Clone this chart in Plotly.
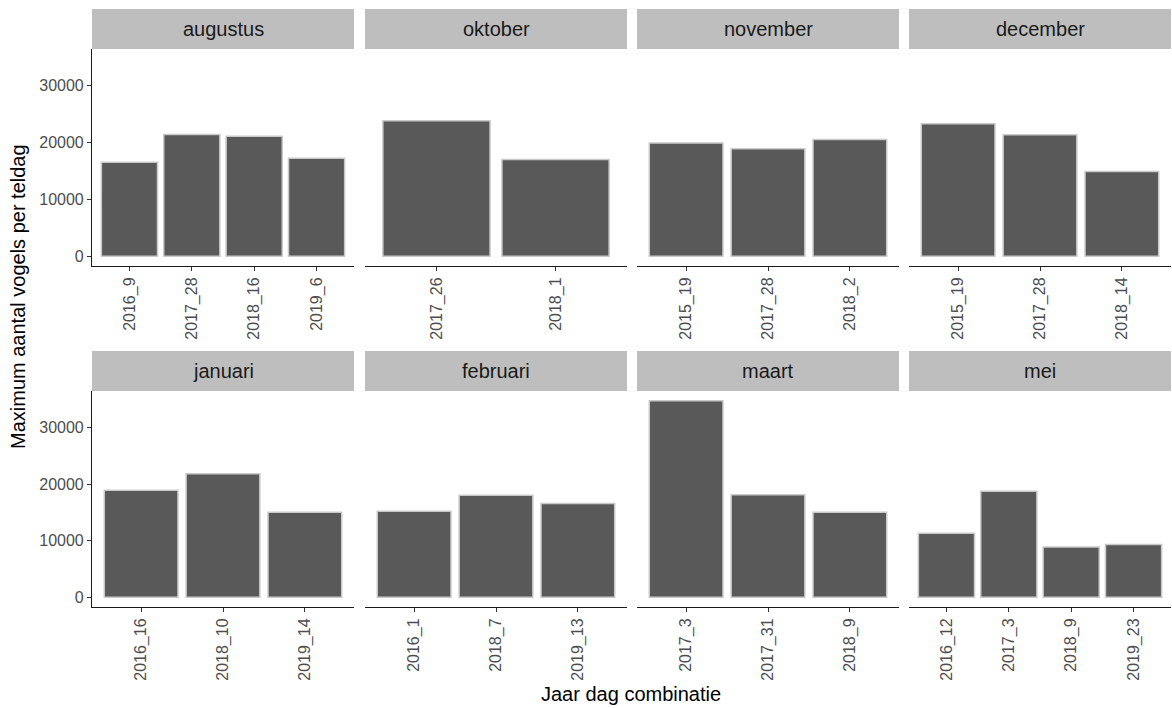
import plotly.graph_objects as go

W, H = 1172, 708

months = ["augustus", "oktober", "november", "december",
          "januari", "februari", "maart", "mei"]

augustus_cats = ["2016_9", "2017_28", "2018_16", "2019_6"]
augustus_vals = [16500, 21400, 21100, 17200]
oktober_cats = ["2017_26", "2018_1"]
oktober_vals = [23800, 17000]
november_cats = ["2015_19", "2017_28", "2018_2"]
november_vals = [19900, 18900, 20500]
december_cats = ["2015_19", "2017_28", "2018_14"]
december_vals = [23300, 21350, 14900]
januari_cats = ["2016_16", "2018_10", "2019_14"]
januari_vals = [18900, 21800, 15000]
februari_cats = ["2016_1", "2018_7", "2019_13"]
februari_vals = [15200, 18000, 16550]
maart_cats = ["2017_3", "2017_31", "2018_9"]
maart_vals = [34700, 18100, 15000]
mei_cats = ["2016_12", "2017_3", "2018_9", "2019_23"]
mei_vals = [11300, 18700, 8850, 9300]

panel_data = [
    (augustus_cats, augustus_vals), (oktober_cats, oktober_vals),
    (november_cats, november_vals), (december_cats, december_vals),
    (januari_cats, januari_vals), (februari_cats, februari_vals),
    (maart_cats, maart_vals), (mei_cats, mei_vals),
]

y_ticks = [0, 10000, 20000, 30000]
y_title = "Maximum aantal vogels per teldag"
x_title = "Jaar dag combinatie"

FONT = "Liberation Sans, Arial, sans-serif"

# layout geometry (pixels)
col_px = [(92, 354), (365, 627), (637, 899), (909, 1171)]
row_px = [(49, 266), (391, 607)]        # panel top, panel bottom
strip_px = [(9, 49), (351, 391)]

ymax_data = max(max(v) for _, v in panel_data)
y_range = [-0.05 * ymax_data, 1.05 * ymax_data]

fig = go.Figure()
layout = dict(
    width=W, height=H,
    margin=dict(l=0, r=0, t=0, b=0),
    paper_bgcolor="white", plot_bgcolor="white",
    showlegend=False,
    font=dict(family=FONT),
    shapes=[], annotations=[],
)

for i, (m, (cats, vals)) in enumerate(zip(months, panel_data)):
    r, c = divmod(i, 4)
    xn = "" if i == 0 else str(i + 1)
    fig.add_trace(go.Bar(
        x=cats, y=vals, xaxis="x" + xn, yaxis="y" + xn,
        width=0.9,
        marker=dict(color="#595959", line=dict(color="#C9C9C9", width=1.5)),
        hoverinfo="x+y",
    ))
    x0, x1 = col_px[c]
    yt, yb = row_px[r]
    layout["xaxis" + xn] = dict(
        domain=[x0 / W, x1 / W], anchor="y" + xn,
        type="category", range=[-0.6, len(cats) - 0.4],
        showline=True, linecolor="#1A1A1A", linewidth=1.1,
        ticks="outside", ticklen=4, tickcolor="#333333", tickwidth=1.1,
        tickangle=-90, tickfont=dict(size=16, color="#4D4D4D", family=FONT),
        showgrid=False, zeroline=False, fixedrange=True,
    )
    ydict = dict(
        domain=[1 - yb / H, 1 - yt / H], anchor="x" + xn,
        range=y_range, showgrid=False, zeroline=False, fixedrange=True,
    )
    if c == 0:
        ydict.update(
            showline=True, linecolor="#1A1A1A", linewidth=1.1,
            ticks="outside", ticklen=4, tickcolor="#333333", tickwidth=1.1,
            tickvals=y_ticks, ticktext=[str(v) for v in y_ticks],
            tickfont=dict(size=16, color="#4D4D4D", family=FONT),
        )
    else:
        ydict.update(visible=False)
    layout["yaxis" + xn] = ydict

    st, sb = strip_px[r]
    layout["shapes"].append(dict(
        type="rect", xref="paper", yref="paper",
        x0=x0 / W, x1=x1 / W, y0=1 - sb / H, y1=1 - st / H,
        fillcolor="#BEBEBE", line=dict(width=0), layer="below",
    ))
    layout["annotations"].append(dict(
        text=m, xref="paper", yref="paper",
        x=(x0 + x1) / 2 / W, y=1 - (st + sb) / 2 / H,
        xanchor="center", yanchor="middle", showarrow=False,
        font=dict(size=20, color="#1A1A1A", family=FONT),
    ))

layout["annotations"].append(dict(
    text=y_title, xref="paper", yref="paper",
    x=18 / W, y=1 - 297 / H, textangle=-90,
    xanchor="center", yanchor="middle", showarrow=False,
    font=dict(size=20, color="#000000", family=FONT),
))
layout["annotations"].append(dict(
    text=x_title, xref="paper", yref="paper",
    x=631 / W, y=1 - 694 / H,
    xanchor="center", yanchor="middle", showarrow=False,
    font=dict(size=20, color="#000000", family=FONT),
))

fig.update_layout(**layout)
fig.write_html(
    "out.html",
    config={"displayModeBar": False},
    post_script="document.body.style.margin='0';document.body.style.overflow='hidden';",
)
